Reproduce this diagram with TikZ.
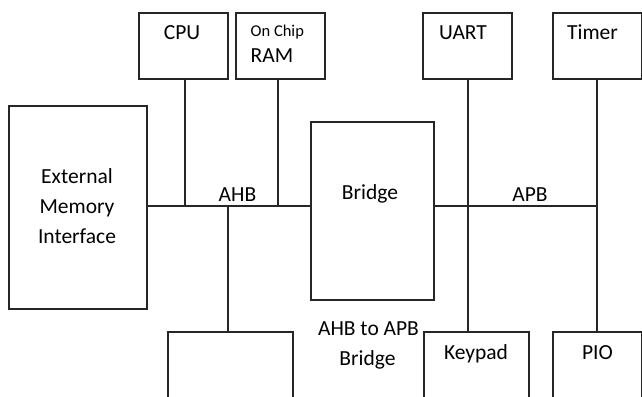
\documentclass[tikz,border=0pt]{standalone}
\usepackage{fontspec}
\setmainfont{Carlito}
\begin{document}
\begin{tikzpicture}[x=1pt,y=-1pt,
  box/.style={draw=black!85, line width=1.3pt, inner sep=0pt, rectangle},
  lbl/.style={anchor=base, inner sep=0pt, font=\fontsize{21.5}{25}\selectfont, text=black},
  small/.style={anchor=base west, inner sep=0pt, font=\fontsize{16.5}{19}\selectfont, text=black},
  wire/.style={draw=black!85, line width=1.3pt}]
\useasboundingbox (0,0) rectangle (642,396);
\clip (0,0) rectangle (642,396);
% boxes
\node[box, minimum width=89pt, minimum height=66pt] (cpu) at (183.5,46) {};
\node[box, minimum width=89pt, minimum height=66pt] (ram) at (280.5,46) {};
\node[box, minimum width=89pt, minimum height=66pt] (uart) at (467.5,46) {};
\node[box, minimum width=89pt, minimum height=66pt] (timer) at (597.5,46) {};
\node[box, minimum width=138pt, minimum height=203pt] (emi) at (78,207.5) {};
\node[box, minimum width=123pt, minimum height=178pt] (bridge) at (372.5,211) {};
\node[box, minimum width=125pt, minimum height=88pt] (bot) at (230.5,376) {};
\node[box, minimum width=105pt, minimum height=88pt] (keypad) at (476.5,376) {};
\node[box, minimum width=89pt, minimum height=88pt] (pio) at (597.5,376) {};
% labels
\node[lbl] (tcpu) at (182,40) {CPU};
\node[small] (tonchip) at (250.5,36.7) {On Chip};
\node[lbl, anchor=base west] (tram) at (250.5,63) {RAM};
\node[lbl] (tuart) at (463,40) {UART};
\node[lbl] (ttimer) at (592.5,40) {Timer};
\node[lbl] (text1) at (77,183) {External};
\node[lbl] (text2) at (77,213) {Memory};
\node[lbl] (text3) at (77,243) {Interface};
\node[lbl] (tahb) at (237.5,201.7) {AHB};
\node[lbl] (tbridge) at (370,199) {Bridge};
\node[lbl] (tapb) at (530,201.7) {APB};
\node[lbl] (tab1) at (368.5,335) {AHB to APB};
\node[lbl] (tab2) at (367.5,365.7) {Bridge};
\node[lbl] (tkeypad) at (476,359) {Keypad};
\node[lbl] (tpio) at (597.5,359) {PIO};
% bus coordinates
\coordinate (busy) at (0,206);
\coordinate (jcpu) at (185,206);
\coordinate (jram) at (278,206);
\coordinate (jbot) at (228,206);
\coordinate (juart) at (468,206);
\coordinate (jtimer) at (597,206);
% AHB bus
\draw[wire] (emi.east |- busy) -- (bridge.west |- busy);
\draw[wire] (jcpu |- cpu.south) -- (jcpu);
\draw[wire] (jram |- ram.south) -- (jram);
\draw[wire] (jbot) -- (jbot |- bot.north);
% APB bus
\draw[wire] (bridge.east |- busy) -- (jtimer);
\draw[wire] (juart |- uart.south) -- (juart |- keypad.north);
\draw[wire] (jtimer |- timer.south) -- (jtimer |- pio.north);
\end{tikzpicture}
\end{document}
